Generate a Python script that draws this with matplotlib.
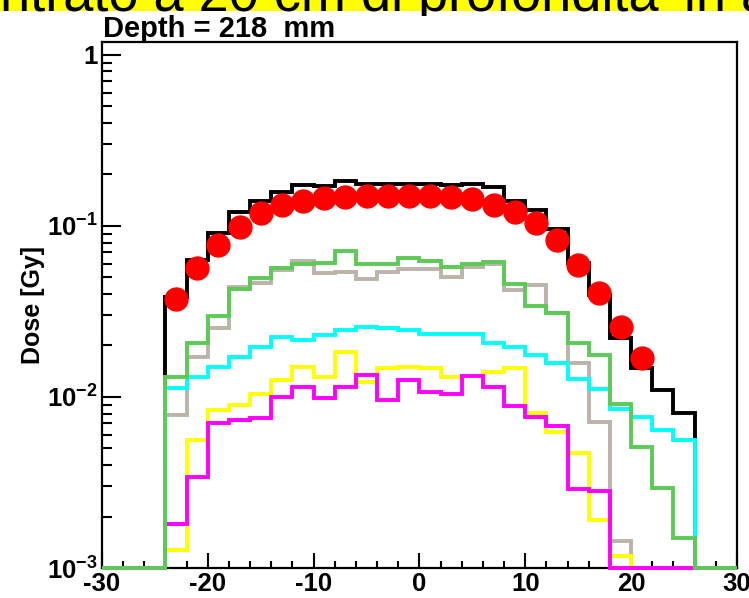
import numpy as np
import matplotlib
matplotlib.use("Agg")
import matplotlib.pyplot as plt
from matplotlib.patches import Rectangle
from matplotlib.ticker import MultipleLocator, LogLocator, NullFormatter

# bin edges in mm (2 mm bins, -30..30)
edges = np.arange(-30, 31, 2)

# dose per bin [Gy], zero = empty bin
black = [0, 0, 0, 0.0385, 0.0632, 0.0914, 0.120, 0.139, 0.159, 0.174, 0.171,
         0.182, 0.175, 0.176, 0.175, 0.176, 0.174, 0.175, 0.168, 0.139, 0.124,
         0.0966, 0.0608, 0.0394, 0.0221, 0.0148, 0.0110, 0.00805, 0, 0]
grey = [0, 0, 0, 0.00785, 0.0172, 0.0252, 0.0442, 0.0462, 0.0553, 0.0627,
        0.0528, 0.0535, 0.0488, 0.0535, 0.0558, 0.0558, 0.0506, 0.0578, 0.0600,
        0.0423, 0.0452, 0.0310, 0.0157, 0.00718, 0.00143, 0, 0, 0, 0, 0]
green = [0, 0, 0, 0.01315, 0.0206, 0.0298, 0.0427, 0.0494, 0.0566, 0.0600,
         0.0610, 0.0718, 0.0600, 0.0597, 0.0647, 0.0624, 0.0578, 0.0600, 0.0618,
         0.0458, 0.0340, 0.0308, 0.0206, 0.0176, 0.0091, 0.00507, 0.00292,
         0.00149, 0, 0]
cyan = [0, 0, 0, 0.01125, 0.01315, 0.01503, 0.0172, 0.0197, 0.02255, 0.02154,
        0.02305, 0.0247, 0.0255, 0.0252, 0.0247, 0.0233, 0.0233, 0.0233, 0.0206,
        0.0196, 0.0175, 0.0158, 0.0128, 0.0111, 0.00855, 0.00764, 0.00641,
        0.0056, 0, 0]
yellow = [0, 0, 0, 0.00127, 0.0056, 0.0084, 0.00898, 0.0104, 0.01256, 0.0149,
          0.0130, 0.0184, 0.0123, 0.01472, 0.0150, 0.01478, 0.01315, 0.01327,
          0.01406, 0.01472, 0.00803, 0.0062, 0.0047, 0.00191, 0.001175, 0, 0,
          0, 0, 0]
magenta = [0, 0, 0, 0.00182, 0.00339, 0.00707, 0.00734, 0.00752, 0.01004,
           0.01148, 0.0099, 0.01148, 0.01345, 0.0096, 0.01256, 0.01074, 0.0104,
           0.01327, 0.01144, 0.00882, 0.00767, 0.00674, 0.00288, 0.00282, 0, 0,
           0, 0, 0, 0]

# measured points
meas_x = np.arange(-23, 22, 2)
meas_y = [0.0374, 0.0566, 0.0775, 0.099, 0.1197, 0.1327, 0.139, 0.145, 0.148,
          0.150, 0.150, 0.150, 0.149, 0.148, 0.1435, 0.1327, 0.121, 0.1037,
          0.0828, 0.0591, 0.0404, 0.0258, 0.0168]

ymin, ymax = 1e-3, 1.19

plt.rcParams["font.family"] = ["Liberation Sans", "DejaVu Sans"]
plt.rcParams["font.weight"] = "bold"
plt.rcParams["mathtext.fontset"] = "custom"
plt.rcParams["mathtext.rm"] = "Liberation Sans:bold"
plt.rcParams["mathtext.it"] = "Liberation Sans:bold"
plt.rcParams["mathtext.bf"] = "Liberation Sans:bold"
plt.rcParams["axes.unicode_minus"] = False

fig = plt.figure(figsize=(7.49, 5.98), dpi=100)

# slide text behind the chart (cut at the top)
fig.patches.append(Rectangle((0, 1 - 11 / 598), 1, 11 / 598, transform=fig.transFigure,
                             facecolor="#ffff00", edgecolor="none", zorder=-3))
fig.text(0.0, 1 - 11 / 598, "ntrato a 20 cm di profondita' in a", fontsize=39,
         fontweight="normal", ha="left", va="baseline", zorder=-2)
fig.patches.append(Rectangle((0, 0), 1, 1 - 16 / 598, transform=fig.transFigure,
                             facecolor="white", edgecolor="none", zorder=-1))

ax = fig.add_axes([102 / 749, 1 - 568 / 598, 635 / 749, 526 / 598])

for vals, col in [(black, "black"), (grey, "#bcb3aa"), (cyan, "#00ffff"),
                  (yellow, "#ffff00"), (magenta, "#ff00ff"), (green, "#5ccb55")]:
    v = np.array(vals)
    ax.stairs(np.where(v > 0, v, ymin), edges, baseline=None, color=col, lw=2.8,
              zorder=3, clip_on=False)

ax.plot(meas_x, meas_y, "o", color="#ff0000", ms=16.5, zorder=5, clip_on=False)

ax.set_xlim(-30, 30)
ax.set_yscale("log")
ax.set_ylim(ymin, ymax)

ax.set_xticks([-30, -20, -10, 0, 10, 20, 30],
              ["-30", "-20", "-10", "0", "10", "20", "30"])
ax.xaxis.set_minor_locator(MultipleLocator(2))
ax.set_yticks([1e-3, 1e-2, 1e-1, 1], [r"$10^{-3}$", r"$10^{-2}$", r"$10^{-1}$", "1"])
ax.yaxis.set_minor_locator(LogLocator(base=10, subs=np.arange(2, 10)))
ax.yaxis.set_minor_formatter(NullFormatter())

ax.tick_params(which="both", direction="in", top=False, right=False,
               labelsize=18.5, width=1.5, pad=3)
ax.tick_params(axis="y", which="major", length=14)
ax.tick_params(axis="y", which="minor", length=7)
ax.tick_params(axis="x", which="major", length=11)
ax.tick_params(axis="x", which="minor", length=5)
for s in ax.spines.values():
    s.set_linewidth(1.6)

ax.set_ylabel("Dose [Gy]", fontsize=18, fontweight="bold")
ax.yaxis.set_label_coords(-0.09, 0.5)

fig.text(103 / 749, 1 - 37 / 598, "Depth = 218  mm", fontsize=21,
         fontweight="bold", ha="left", va="baseline")

fig.savefig("out.png", dpi=100)
